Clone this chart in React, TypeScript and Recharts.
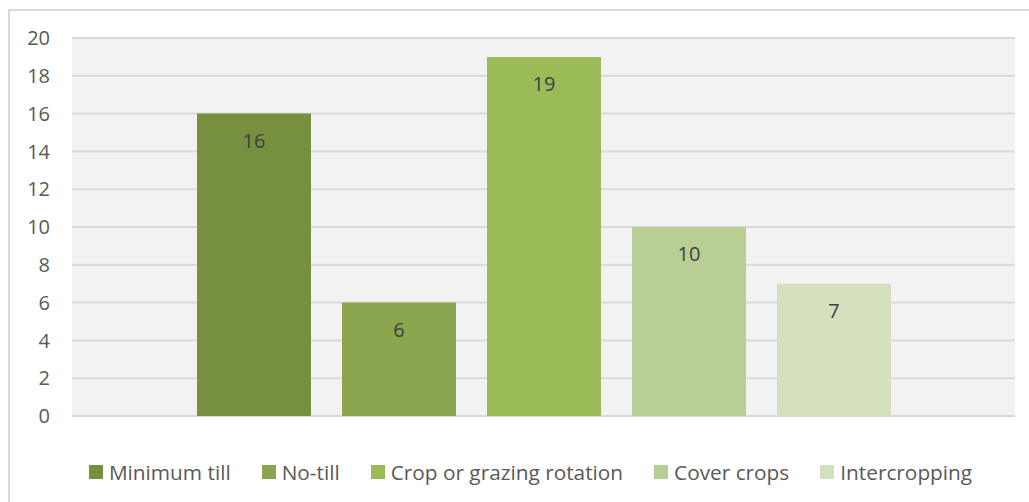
import React from "react";
import { BarChart, Bar, XAxis, YAxis, CartesianGrid, LabelList } from "recharts";

const seriesNames = ["Minimum till", "No-till", "Crop or grazing rotation", "Cover crops", "Intercropping"];
const seriesKeys = ["minTill", "noTill", "rotation", "cover", "intercrop"];
const seriesValues = [16, 6, 19, 10, 7];
const seriesColors = ["#76903F", "#8BA64E", "#9BBB59", "#B9CE94", "#D4E0BE"];
const yTicks = [0, 2, 4, 6, 8, 10, 12, 14, 16, 18, 20];

const row: Record<string, number | string> = { name: "" };
seriesKeys.forEach((k, i) => {
  row[k] = seriesValues[i];
});
const data = [row];

const FONT = "'Open Sans', sans-serif";

export default function App() {
  return (
    <div
      style={{
        position: "fixed",
        left: 8,
        top: 9,
        width: 1021,
        height: 493,
        borderLeft: "2px solid #D9D9D9",
        borderTop: "2px solid #D9D9D9",
        boxSizing: "border-box",
        background: "#FFFFFF",
        overflow: "hidden",
        fontFamily: FONT,
      }}
    >
      <BarChart
        width={1019}
        height={491}
        data={data}
        margin={{ top: 27, right: 14, bottom: 86, left: 0 }}
        barSize={114}
        barGap={31}
      >
        <CartesianGrid
          vertical={false}
          stroke="#D9D9D9"
          strokeWidth={2}
          fill="#F2F2F2"
          fillOpacity={1}
        />
        <XAxis dataKey="name" hide />
        <YAxis
          domain={[0, 20]}
          ticks={yTicks}
          interval={0}
          width={62}
          axisLine={false}
          tickLine={false}
          tickSize={0}
          tickMargin={22}
          tick={{ fill: "#595959", fontSize: 20, fontFamily: FONT }}
        />
        {seriesKeys.map((k, i) => (
          <Bar key={k} dataKey={k} name={seriesNames[i]} fill={seriesColors[i]} isAnimationActive={false}>
            <LabelList
              dataKey={k}
              position="insideTop"
              offset={20}
              fill="#404040"
              fontSize={20}
              fontFamily={FONT}
            />
          </Bar>
        ))}
      </BarChart>
      <div
        style={{
          position: "absolute",
          left: 0,
          top: 449,
          width: 1019,
          height: 24,
          paddingLeft: 22,
          boxSizing: "border-box",
          display: "flex",
          justifyContent: "center",
          alignItems: "center",
          gap: 31,
        }}
      >
        {seriesNames.map((n, i) => (
          <div key={n} style={{ display: "flex", alignItems: "center" }}>
            <span
              style={{
                display: "inline-block",
                width: 14,
                height: 14,
                background: seriesColors[i],
                marginRight: 6,
              }}
            />
            <span style={{ fontSize: 20.8, color: "#595959", whiteSpace: "nowrap" }}>{n}</span>
          </div>
        ))}
      </div>
    </div>
  );
}
